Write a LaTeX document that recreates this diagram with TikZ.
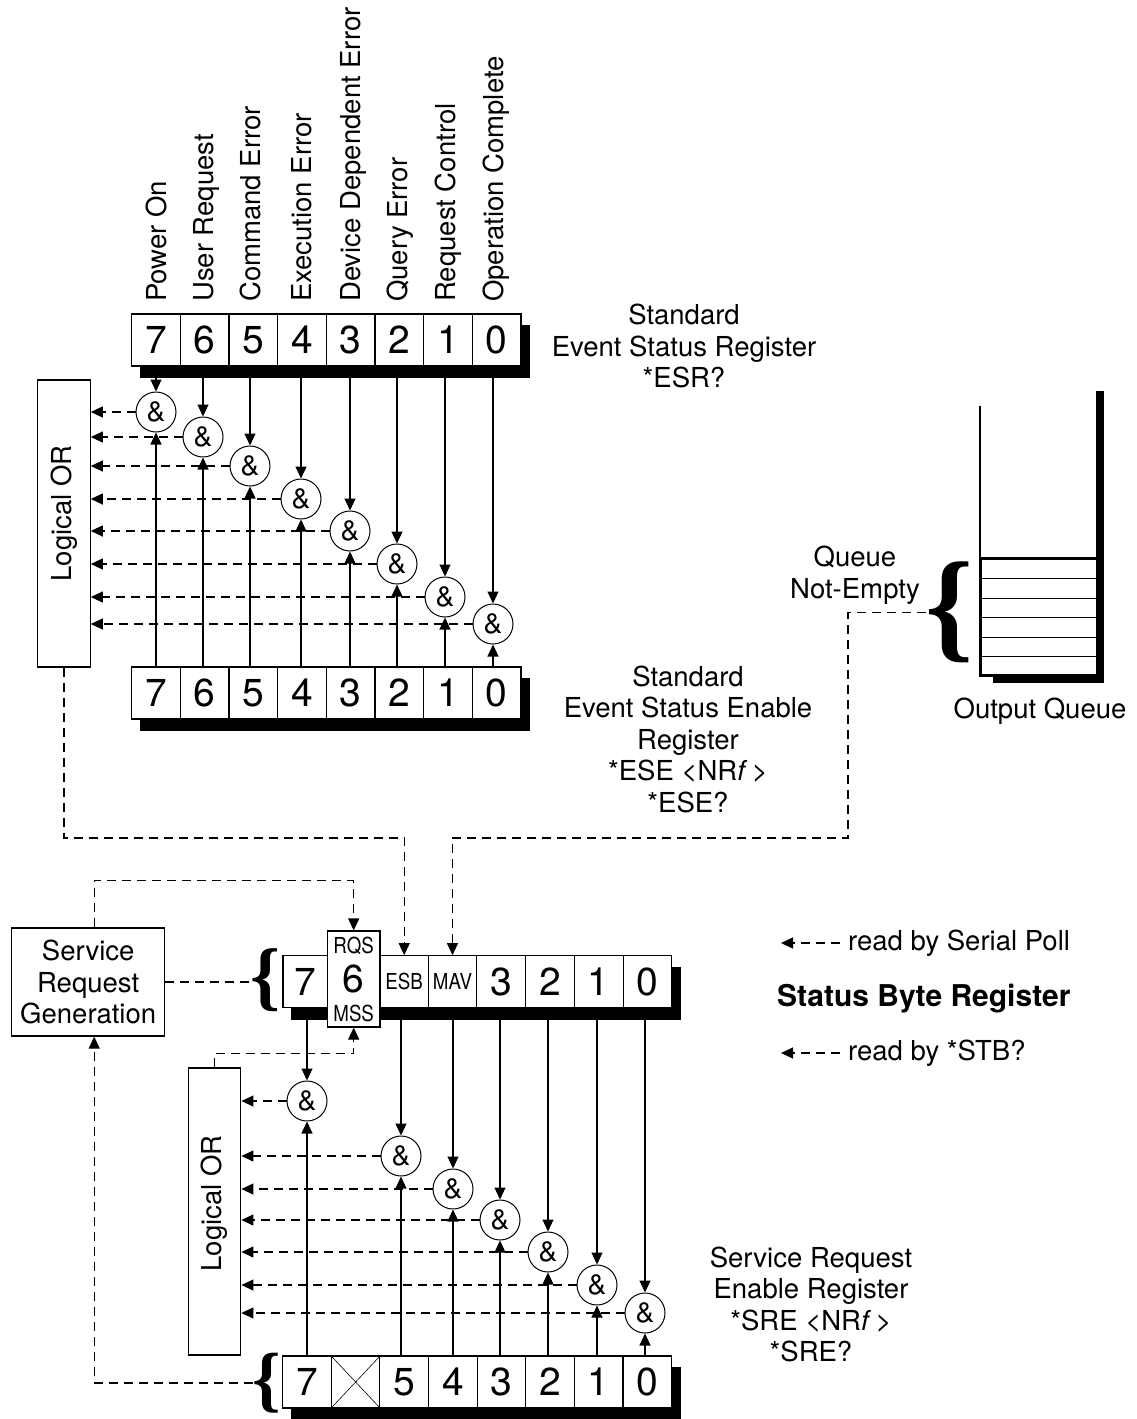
\documentclass[tikz,border=0pt]{standalone}
\usepackage{graphicx}
\usepackage{fontspec}
\setmainfont{TeX Gyre Heros}
\newfontfamily\bracefnt{Liberation Serif}
\usetikzlibrary{arrows.meta,positioning,backgrounds}
\newcommand{\narrowtxt}[1]{\scalebox{0.85}[1]{#1}}
\newcommand{\bigbrace}[1]{\resizebox*{!}{#1}{\bracefnt\bfseries\{}}

\begin{document}
\begin{tikzpicture}[x=1pt,y=-1pt,
  every node/.style={font=\fontsize{27.5}{31.5}\selectfont},
  cell/.style={draw,fill=white,line width=1.1pt,minimum width=48.7pt,minimum height=52pt,inner sep=0pt,
               font=\fontsize{39}{39}\selectfont},
  tag/.style={inner sep=0pt,font=\fontsize{22}{22}\selectfont},
  gate/.style={circle,draw,fill=white,line width=1pt,minimum size=40pt,inner sep=0pt,font=\fontsize{28}{28}\selectfont},
  orbox/.style={draw,line width=1.1pt,minimum width=52.5pt,minimum height=287pt,inner sep=0pt},
  lbl/.style={align=center,inner sep=0pt},
  brc/.style={inner sep=0pt},
  sig/.style={line width=1.1pt,-{Triangle[length=12pt,width=11pt]}},
  dline/.style={line width=1.1pt,dash pattern=on 9pt off 6pt},
  dsig/.style={dline,-{Triangle[length=12pt,width=11pt]}},
  regshadow/.style={fill=black}]
  \useasboundingbox (0,0) rectangle (1136,1419);

  % event names above the ESR
  \foreach \b/\gx/\txt in {7/156/Power On,6/203/User Request,5/250/Command Error,4/301/Execution Error,
                           3/350/Device Dependent Error,2/397/Query Error,1/445/Request Control,0/493/Operation Complete}
    \node[rotate=90,anchor=base west,inner sep=0pt] (ev\b) at ({\gx+10},302) {\txt};

  % standard event status register and its enable register
  \foreach \b [count=\i from 0] in {7,...,0} {
    \node[cell] (esr\b) at ({131.7+48.66*(\i+0.5)},340) {\b};
    \node[cell] (ese\b) at ({131.7+48.66*(\i+0.5)},693) {\b};
  }
  \node[lbl] (esrlbl) at (684,346) {Standard\\Event Status Register\\*ESR?};
  \node[lbl] (eselbl) at (688,739) {Standard\\Event Status Enable\\Register\\*ESE \textless NR\textit{f}\,\textgreater\\*ESE?};
  \node[orbox] (orA) at (64,523.5) {\rotatebox{90}{\hspace{20pt}Logical OR}};

  \foreach \b/\gx/\gy in {7/156/412,6/203/437,5/250/466,4/301/499,3/350/531,2/397/564,1/445/597,0/493/624} {
    \node[gate] (ga\b) at (\gx,\gy) {\&};
    \draw[sig] (ga\b |- esr\b.south) -- (ga\b);
    \draw[sig] (ga\b |- ese\b.north) -- (ga\b);
    \draw[dsig] (ga\b) -- (orA.east |- ga\b);
  }

  % output queue
  \draw[line width=1.1pt] (980,406) -- (980,558);
  \fill[regshadow] (1096,391) rectangle (1103.5,683);
  \fill[regshadow] (993,675) rectangle (1103.5,683);
  \draw[line width=3pt] (980,558) rectangle (1097,675);
  \foreach \y in {578,598,617,637,656}
    \draw[line width=1pt] (980,\y) -- (1097,\y);
  \node[brc] (qbr) at (950,612.5) {\bigbrace{101pt}};
  \node[lbl] (qlbl) at (855,575) {Queue\\Not-Empty};
  \node (oqlbl) at (1040,711) {Output Queue};

  % status byte register
  \node[cell,minimum width=44.5pt] (sb7) at (305.2,981.7) {7};
  \node[cell,font=\fontsize{22}{22}\selectfont] (sbE) at (404.2,981.7) {\narrowtxt{ESB}};
  \node[cell,font=\fontsize{22}{22}\selectfont] (sbM) at (452.5,981.7) {\narrowtxt{MAV}};
  \foreach \b/\cx in {3/501.2,2/549.9,1/598.7,0/647.5}
    \node[cell] (sb\b) at (\cx,981.7) {\b};
  \node[cell,minimum width=52.5pt,minimum height=96pt] (sb6) at (353.7,979) {6};
  \node[tag] (rqs) at (353.7,946) {\narrowtxt{RQS}};
  \node[tag] (mss) at (353.7,1013) {\narrowtxt{MSS}};
  \node[brc] (sbbr) at (265,980.5) {\bigbrace{63pt}};

  \node[draw,line width=1.1pt,minimum width=153pt,minimum height=108pt,align=center,inner sep=0pt] (srg)
    at (88.2,982) {Service\\Request\\Generation};
  \draw[dline] (srg.east) -- (srg.east -| sbbr.west);
  \draw[dsig] ([xshift=6pt]srg.north) -- ++(0,-47) -| (sb6.north);

  \coordinate (qbend) at (848,838);
  \draw[dsig] (orA.south) -- (orA.south |- qbend) -| (sbE.north);
  \draw[dsig] (qbr.west) -| (qbend) -| (sbM.north);

  \node[anchor=west,inner sep=0pt] (poll) at (848,943) {read by Serial Poll};
  \coordinate (pollend) at (781,943);
  \draw[dsig] ([xshift=-8pt]poll.west) -- (pollend);
  \node[anchor=west,inner sep=0pt,font=\fontsize{30}{30}\selectfont\bfseries] (sbrlbl) at (777,999) {Status Byte Register};
  \node[anchor=west,inner sep=0pt] (stb) at (848,1053) {read by *STB?};
  \coordinate (stbend) at (781,1053);
  \draw[dsig] ([xshift=-8pt]stb.west) -- (stbend);

  % service request enable register
  \foreach \b [count=\i from 0] in {7,...,0}
    \node[cell] (sre\b) at ({282.7+48.62*(\i+0.5)},1382) {\ifnum\b=6 \else\b\fi};
  \draw[line width=0.6pt] (sre6.north west) -- (sre6.south east) (sre6.north east) -- (sre6.south west);
  \node[brc] (srebr) at (267,1383) {\bigbrace{60pt}};
  \draw[dsig] (srebr.west) -| ([xshift=6pt]srg.south);
  \node[lbl] (srelbl) at (811,1304.5) {Service Request\\Enable Register\\*SRE \textless NR\textit{f}\,\textgreater\\*SRE?};
  \node[orbox] (orB) at (214.6,1211.5) {\rotatebox{90}{\hspace{16pt}Logical OR}};
  \draw[dsig] (orB.north) -- ++(0,-14) -| (sb6.south);

  \foreach \b/\src/\gx/\gy in {7/sb7/307/1101,5/sbE/401/1156,4/sbM/453/1189,3/sb3/500/1220,
                               2/sb2/548/1252,1/sb1/597/1285,0/sb0/645/1313} {
    \node[gate] (gb\b) at (\gx,\gy) {\&};
    \draw[sig] (gb\b |- \src.south) -- (gb\b);
    \draw[sig] (gb\b |- sre\b.north) -- (gb\b);
    \draw[dsig] (gb\b) -- (orB.east |- gb\b);
  }

  % register shadows
  \begin{scope}[on background layer]
    \fill[regshadow] ([shift={(8.5pt,-11.5pt)}]esr7.north west) rectangle ([shift={(8.5pt,-11.5pt)}]esr0.south east);
    \fill[regshadow] ([shift={(8.5pt,-11.5pt)}]ese7.north west) rectangle ([shift={(8.5pt,-11.5pt)}]ese0.south east);
    \fill[regshadow] ([shift={(8.5pt,-11.5pt)}]sb7.north west) rectangle ([shift={(8.5pt,-11.5pt)}]sb0.south east);
    \fill[regshadow] ([shift={(8.5pt,-11.5pt)}]sre7.north west) rectangle ([shift={(8.5pt,-11.5pt)}]sre0.south east);
  \end{scope}
\end{tikzpicture}
\end{document}
